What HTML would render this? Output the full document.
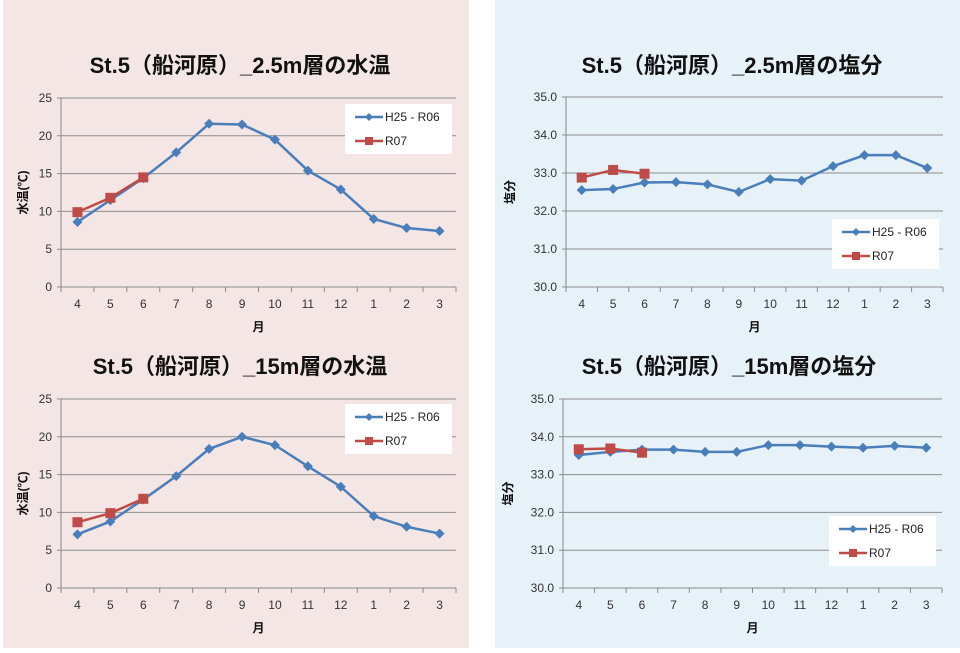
<!DOCTYPE html>
<html><head><meta charset="utf-8">
<style>
body{margin:0;width:960px;height:648px;background:#fff;overflow:hidden;font-family:"Liberation Sans","Noto Sans CJK JP",sans-serif;}
svg text{font-family:"Liberation Sans","Noto Sans CJK JP",sans-serif;}
</style></head>
<body>
<svg id="s" width="960" height="648">
<rect x="3" y="0" width="466" height="648" fill="#f5e6e6"/>
<rect x="495" y="0" width="465" height="648" fill="#e6f1f8"/>
</svg>
<script>
const months=["4","5","6","7","8","9","10","11","12","1","2","3"];
const tempTicks=["0","5","10","15","20","25"];
const salTicks=["30.0","31.0","32.0","33.0","34.0","35.0"];
const temp25Hist=[8.6,11.5,14.4,17.8,21.6,21.5,19.5,15.4,12.9,9.0,7.8,7.4];
const temp25R07=[9.9,11.8,14.5];
const sal25Hist=[32.55,32.58,32.75,32.76,32.7,32.5,32.84,32.8,33.18,33.47,33.47,33.13];
const sal25R07=[32.88,33.08,32.98];
const temp15Hist=[7.1,8.8,11.7,14.8,18.4,20.0,18.9,16.1,13.4,9.5,8.1,7.2];
const temp15R07=[8.7,9.9,11.8];
const sal15Hist=[33.52,33.6,33.66,33.66,33.6,33.6,33.78,33.78,33.74,33.71,33.76,33.71];
const sal15R07=[33.67,33.69,33.58];
const seriesNames=["H25 - R06","R07"];

const NS="http://www.w3.org/2000/svg";
const svg=document.getElementById("s");
function mk(tag,attrs,parent){const e=document.createElementNS(NS,tag);for(const k in attrs)e.setAttribute(k,attrs[k]);(parent||svg).appendChild(e);return e;}
function txt(s,attrs,parent){const e=mk("text",attrs,parent);e.textContent=s;return e;}

function chart(o){
  const g=mk("g",{});
  
  
  const t=txt(o.title,{x:o.tx,y:o.ty,"text-anchor":"middle","font-size":"22","font-weight":"bold",fill:"#111"},g);
  
  
  const ymin=o.ymin,ymax=o.ymax;
  const Y=v=>o.y0+(v-ymin)/(ymax-ymin)*(o.y1-o.y0);
  const bw=(o.x1-o.x0)/months.length;
  const X=i=>o.x0+bw*(i+0.5);
  o.ticks.forEach(tk=>{
    const v=parseFloat(tk),y=Y(v);
    const l=mk("line",{x1:o.x0-4,x2:o.x1,y1:y,y2:y,stroke:"#8c8c8c","stroke-width":1},g);
    
    
    const tl=txt(tk,{x:o.x0-9,y:y+4,"text-anchor":"end","font-size":"12",fill:"#333"},g);
    
    
  });
  const ax=mk("line",{x1:o.x0,x2:o.x0,y1:o.y1,y2:o.y0+0.5,stroke:"#888"},g);
  
  
  for(let i=0;i<=months.length;i++){const x=o.x0+bw*i;const tm=mk("line",{x1:x,x2:x,y1:o.y0,y2:o.y0+5,stroke:"#888"},g);
    
    }
  months.forEach((m,i)=>{const e=txt(m,{x:X(i),y:o.y0+21,"text-anchor":"middle","font-size":"12",fill:"#333"},g);
    
    });
  const xt=txt("月",{x:(o.x0+o.x1)/2,y:o.y0+44,"text-anchor":"middle","font-size":"12","font-weight":"bold",fill:"#111"},g);
  
  
  const yt=txt(o.ylabel,{x:0,y:0,"text-anchor":"middle","font-size":"12","font-weight":"bold",fill:"#111",transform:`translate(${o.ylx},${(o.y0+o.y1)/2}) rotate(-90)`},g);
  
  
  function series(vals,color,marker,nm){
    const pl=mk("polyline",{points:vals.map((v,i)=>X(i)+","+Y(v)).join(" "),fill:"none",stroke:color,"stroke-width":2.5},g);
    
    
    vals.forEach((v,i)=>{
      let m;
      if(marker==="d") m=mk("path",{d:`M${X(i)},${Y(v)-5}l5,5l-5,5l-5,-5z`,fill:color},g);
      else m=mk("rect",{x:X(i)-5,y:Y(v)-5,width:10,height:10,fill:color},g);
      
      
    });
  }
  series(o.hist,"#4a7ebb","d","series-h25-r06");
  series(o.r07,"#be4b48","s","series-r07");
  const lg=mk("g",{},g);
  
  
  mk("rect",{x:o.lx,y:o.ly,width:107,height:50,fill:"#fff"},lg);
  [["#4a7ebb","d"],["#be4b48","s"]].forEach((c,k)=>{
    const cy=o.ly+13+k*24;
    const le=mk("g",{},lg);
    
    
    mk("line",{x1:o.lx+10,x2:o.lx+38,y1:cy,y2:cy,stroke:c[0],"stroke-width":2.5},le);
    const cx=o.lx+24;
    if(c[1]==="d") mk("path",{d:`M${cx},${cy-4}l4,4l-4,4l-4,-4z`,fill:c[0]},le);
    else mk("rect",{x:cx-4,y:cy-4,width:8,height:8,fill:c[0]},le);
    txt(seriesNames[k],{x:o.lx+40,y:cy+4,"font-size":"12",fill:"#222"},le);
  });
}
chart({name:"chart-temp-2-5m",title:"St.5（船河原）_2.5m層の水温",tx:240,ty:73,x0:61,x1:456,y0:287,y1:98,ymin:0,ymax:25,ticks:tempTicks,ylabel:"水温(℃)",ylx:27,hist:temp25Hist,r07:temp25R07,lx:345,ly:104});
chart({name:"chart-salinity-2-5m",title:"St.5（船河原）_2.5m層の塩分",tx:732,ty:73,x0:566,x1:943,y0:287,y1:97,ymin:30,ymax:35,ticks:salTicks,ylabel:"塩分",ylx:514,hist:sal25Hist,r07:sal25R07,lx:832,ly:219});
chart({name:"chart-temp-15m",title:"St.5（船河原）_15m層の水温",tx:240,ty:374,x0:61,x1:456,y0:588,y1:399,ymin:0,ymax:25,ticks:tempTicks,ylabel:"水温(℃)",ylx:27,hist:temp15Hist,r07:temp15R07,lx:345,ly:404});
chart({name:"chart-salinity-15m",title:"St.5（船河原）_15m層の塩分",tx:729,ty:374,x0:563,x1:942,y0:588,y1:399,ymin:30,ymax:35,ticks:salTicks,ylabel:"塩分",ylx:512,hist:sal15Hist,r07:sal15R07,lx:829,ly:516});
</script>
</body></html>
